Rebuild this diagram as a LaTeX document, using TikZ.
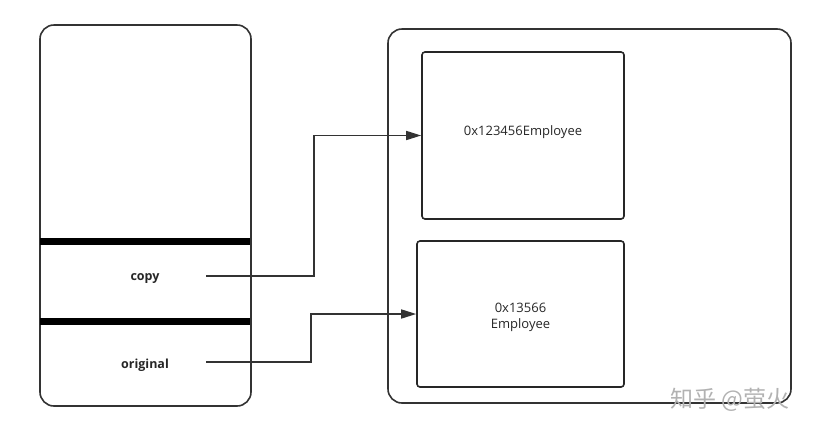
\documentclass[tikz,border=0pt]{standalone}
\usepackage{fontspec}
\setmainfont{Open Sans}
\newfontfamily\cjkfont{Noto Sans CJK SC}
\usetikzlibrary{positioning,arrows.meta}

\begin{document}
\begin{tikzpicture}[x=1pt, y=-1pt,
    frame/.style={draw=black!80, line width=1.6pt, rounded corners=14pt, inner sep=0pt},
    obj/.style={draw=black!85, line width=1.6pt, rounded corners=3pt, inner sep=0pt},
    objtext/.style={align=center, font=\fontsize{13}{16}\selectfont, text=black!85},
    var/.style={font=\bfseries\fontsize{12.5}{15}\selectfont, text=black!85},
    ref/.style={draw=black!80, line width=1.6pt, -{Triangle[length=15pt, width=9pt]}}
]
\useasboundingbox (0,0) rectangle (816,432);
  % stack side
  \node[frame, minimum width=211pt, minimum height=381pt] (stack) at (145.5,215.5) {};
  \draw[line width=7pt] (40,241) -- (250,241);
  \draw[line width=7pt] (40,321) -- (250,321);
  \node[var] (copy) at (145,279) {copy};
  \node[var] (original) at (145,365) {original};
  \coordinate (copyptr) at (206,276);
  \coordinate (origptr) at (206,362);

  % heap side
  \node[frame, minimum width=403pt, minimum height=374pt] (heap) at (589.5,216) {};
  \node[obj, minimum width=202pt, minimum height=167pt] (emp1) at (523,135.5) {};
  \node[obj, minimum width=207pt, minimum height=146pt] (emp2) at (520.5,314) {};
  \node[objtext] (emp1text) at ([yshift=3pt]emp1.center) {0x123456Employee};
  \node[objtext] (emp2text) at ([yshift=-3pt]emp2.center) {0x13566\\Employee};

  % references
  \draw[ref] (copyptr) -- (314,276) |- (emp1.west);
  \draw[ref] (origptr) -- (311,362) |- (emp2.west);

  \node[text=black!30, font=\cjkfont\fontsize{23}{26}\selectfont] (mark) at (730,400) {知乎 @萤火};
\end{tikzpicture}
\end{document}
